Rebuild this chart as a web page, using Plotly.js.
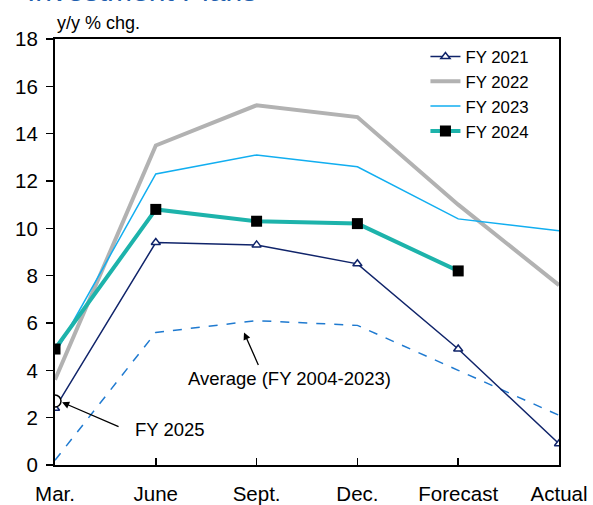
<!DOCTYPE html>
<html>
<head>
<meta charset="utf-8">
<script src="https://cdn.plot.ly/plotly-3.0.1.min.js"></script>
<style>
  html, body { margin: 0; padding: 0; background: #fff; }
  #chart { width: 593px; height: 505px; }
</style>
</head>
<body>
<div id="chart"></div>
<script>
// Survey stages along the horizontal axis
const stages = ["Mar.", "June", "Sept.", "Dec.", "Forecast", "Actual"];

// Year-on-year % change in planned investment, by fiscal year
const fy2021 = [2.4, 9.4, 9.3, 8.5, 4.9, 0.9];
const fy2022 = [3.6, 13.5, 15.2, 14.7, 11.0, 7.6];
const fy2023 = [4.7, 12.3, 13.1, 12.6, 10.4, 9.9];
const fy2024 = [4.9, 10.8, 10.3, 10.2, 8.2];
const avg0423 = [0.2, 5.6, 6.1, 5.9, 4.0, 2.1];
const fy2025 = [2.7];

const yTicks = [0, 2, 4, 6, 8, 10, 12, 14, 16, 18];

const FONT = "Liberation Sans, Arial, sans-serif";

const traces = [
  {
    x: stages, y: avg0423, name: "Average (FY 2004-2023)", mode: "lines",
    line: { color: "#1f7ad0", width: 1.5, dash: "dash" },
    showlegend: false, hoverinfo: "skip"
  },
  {
    x: stages, y: fy2022, name: "FY 2022", mode: "lines",
    line: { color: "#b2b2b2", width: 4 }, legendrank: 2
  },
  {
    x: stages, y: fy2023, name: "FY 2023", mode: "lines",
    line: { color: "#11aef0", width: 1.5 }, legendrank: 3
  },
  {
    x: stages.slice(0, fy2024.length), y: fy2024, name: "FY 2024", mode: "lines+markers",
    line: { color: "#1db3ab", width: 4 },
    marker: { symbol: "square", size: 11, color: "#000" }, legendrank: 4
  },
  {
    x: stages, y: fy2021, name: "FY 2021", mode: "lines+markers",
    line: { color: "#10246a", width: 1.5 },
    marker: { symbol: "triangle-up", size: 8, color: "#fff", line: { color: "#10246a", width: 1.5 } },
    legendrank: 1
  },
  {
    x: stages.slice(0, fy2025.length), y: fy2025, name: "FY 2025", mode: "markers",
    marker: { symbol: "circle", size: 12, color: "#fff", line: { color: "#000", width: 1.5 } },
    showlegend: false
  }
];

const layout = {
  width: 593, height: 505,
  margin: { l: 55, r: 34, t: 39, b: 40 },
  paper_bgcolor: "#fff", plot_bgcolor: "#fff",
  font: { family: FONT, color: "#000", size: 19 },
  showlegend: true,
  legend: {
    x: 0.735, y: 1.0, xanchor: "left", yanchor: "top",
    bgcolor: "rgba(0,0,0,0)", font: { family: FONT, size: 16.8, color: "#000" },
    traceorder: "normal"
  },
  xaxis: {
    type: "category", range: [0, 5], fixedrange: true,
    showline: true, linecolor: "#000", linewidth: 2, mirror: true,
    ticks: "inside", ticklen: 7, tickwidth: 1.5, tickcolor: "#000",
    ticklabelstandoff: 9,
    showgrid: false, zeroline: false,
    tickfont: { family: FONT, size: 20.5, color: "#000" }
  },
  yaxis: {
    range: [0, 18], tickvals: yTicks, ticktext: yTicks.map(String),
    showline: true, linecolor: "#000", linewidth: 2, mirror: true,
    ticks: "outside", ticklen: 7, tickwidth: 1.5, tickcolor: "#000",
    ticklabelstandoff: 4,
    showgrid: false, zeroline: false,
    tickfont: { family: FONT, size: 20.5, color: "#000" }
  },
  annotations: [
    {
      text: "Investment Plans", xref: "paper", yref: "paper",
      x: -0.06, y: 1.115, xanchor: "left", yanchor: "middle", showarrow: false,
      font: { family: FONT, size: 30, color: "#1f5fae" }
    },
    {
      text: "y/y % chg.", xref: "paper", yref: "paper",
      x: 0, y: 1.037, xanchor: "left", yanchor: "middle", showarrow: false,
      font: { family: FONT, size: 18, color: "#000" }
    },
    {
      text: "Average (FY 2004-2023)", xref: "x", yref: "y",
      x: 2.33, y: 3.66, showarrow: false,
      font: { family: FONT, size: 18.5, color: "#000" }
    },
    {
      text: "", xref: "x", yref: "y", x: 1.875, y: 5.6,
      showarrow: true, arrowhead: 2, arrowsize: 1.1, arrowwidth: 1.3, arrowcolor: "#000",
      ax: 15, ay: 34, standoff: 0
    },
    {
      text: "FY 2025", xref: "x", yref: "y",
      x: 1.14, y: 1.5, showarrow: false,
      font: { family: FONT, size: 18.5, color: "#000" }
    },
    {
      text: "", xref: "x", yref: "y", x: 0.07, y: 2.65,
      showarrow: true, arrowhead: 2, arrowsize: 1.1, arrowwidth: 1.3, arrowcolor: "#000",
      ax: 58, ay: 25, standoff: 0
    }
  ]
};

Plotly.newPlot("chart", traces, layout, { displayModeBar: false, staticPlot: true });
</script>
</body>
</html>
